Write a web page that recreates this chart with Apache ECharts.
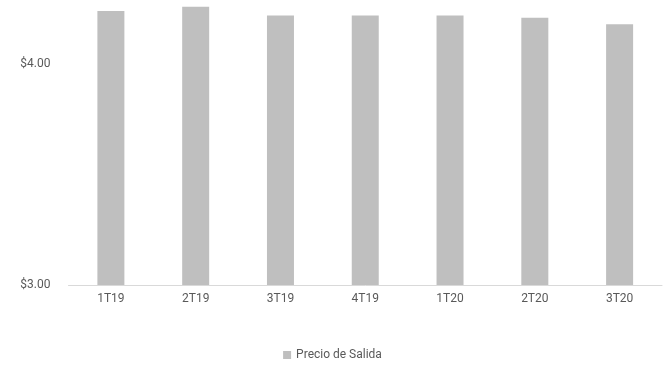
<!DOCTYPE html>
<html>
<head>
<meta charset="utf-8">
<script src="https://cdn.jsdelivr.net/npm/echarts@6/dist/echarts.min.js"></script>
<style>
  html, body { margin: 0; padding: 0; background: #fff; }
  #chart { width: 665px; height: 370px; }
</style>
</head>
<body>
<div id="chart"></div>
<script>
// datos
const categories = ["1T19", "2T19", "3T19", "4T19", "1T20", "2T20", "3T20"];
const precioSalida = [4.24, 4.26, 4.22, 4.22, 4.22, 4.21, 4.18];
const seriesName = "Precio de Salida";

const font = "'Roboto', sans-serif";
const myChart = echarts.init(document.getElementById("chart"));

let option = {
  animation: false,
  backgroundColor: "#ffffff",
  grid: {
    left: 68.5,
    right: 3,
    top: 0,
    bottom: 85
  },
  legend: {
    data: [seriesName],
    bottom: 4,
    left: "center",
    itemWidth: 8,
    itemHeight: 8,
    icon: "rect",
    textStyle: { color: "#595959", fontSize: 12, fontFamily: font }
  },
  xAxis: {
    type: "category",
    data: categories,
    axisLine: { lineStyle: { color: "#d9d9d9", width: 1 } },
    axisTick: { show: false },
    axisLabel: { color: "#595959", fontSize: 12, fontFamily: font, margin: 8 }
  },
  yAxis: {
    type: "value",
    min: 3,
    max: 4.29,
    interval: 1,
    axisLine: { show: false },
    axisTick: { show: false },
    splitLine: { show: false },
    axisLabel: {
      color: "#595959",
      fontSize: 12,
      fontFamily: font,
      margin: 18,
      showMaxLabel: false,
      formatter: v => "$" + v.toFixed(2)
    }
  },
  series: [
    {
      name: seriesName,
      type: "bar",
      data: precioSalida,
      barWidth: 27,
      itemStyle: { color: "#bfbfbf" }
    }
  ]
};

myChart.setOption(option);
</script>
</body>
</html>
